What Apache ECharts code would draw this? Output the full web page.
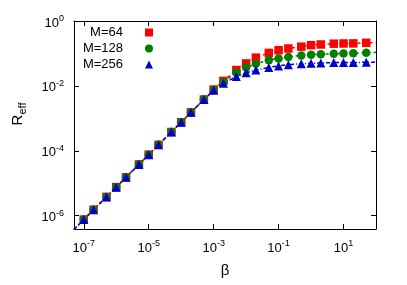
<!DOCTYPE html>
<html><head><meta charset="utf-8">
<script src="https://cdn.jsdelivr.net/npm/echarts@6/dist/echarts.min.js"></script>
<style>html,body{margin:0;padding:0;background:#fff}#c{width:407px;height:285px}</style>
</head><body><div id="c"></div>
<script>
// ---- data ----
const beta = [1e-7,2e-7,5e-7,1e-6,2e-6,5e-6,1e-5,2e-5,5e-5,1e-4,2e-4,5e-4,1e-3,2e-3,5e-3,1e-2,2e-2,5e-2,0.1,0.2,0.5,1,2,5,10,20,50];
const rM64  = [7.6e-7,1.53e-6,3.8e-6,7.6e-6,1.53e-5,3.8e-5,7.6e-5,1.53e-4,3.8e-4,7.6e-4,1.53e-3,3.8e-3,7.7e-3,0.0143,0.0308,0.0493,0.0743,0.104,0.126,0.142,0.162,0.180,0.189,0.200,0.203,0.204,0.213];
const rM128 = [7.6e-7,1.53e-6,3.8e-6,7.6e-6,1.53e-5,3.8e-5,7.6e-5,1.53e-4,3.8e-4,7.6e-4,1.53e-3,3.8e-3,7.5e-3,0.0132,0.0254,0.0367,0.0483,0.0623,0.0702,0.0781,0.0868,0.0912,0.0945,0.0973,0.100,0.1014,0.106];
const rM256 = [7.6e-7,1.53e-6,3.8e-6,7.6e-6,1.53e-5,3.8e-5,7.6e-5,1.53e-4,3.8e-4,7.6e-4,1.53e-3,3.8e-3,7.3e-3,0.0120,0.0194,0.0254,0.0308,0.0372,0.0414,0.0450,0.0483,0.0497,0.0508,0.0522,0.0527,0.0527,0.0533];
const seriesNames = ['M=64','M=128','M=256'];
// dotted guide curves: extra end points at the plot edges
const fitStart = [5.0e-8, 3.8e-7];
const fitEndBeta = 100;
const fitEndR = [0.216, 0.108, 0.054];
const xTicks = [1e-7,1e-5,1e-3,1e-1,1e1];
const yTicks = [1e-6,1e-4,1e-2,1];
const xRange = [5.0e-8, 100];
const yRange = [3.9e-7, 1];

// ---- chart ----
const FONT = '"Liberation Sans", Arial, Helvetica, sans-serif';
const colors = ['#ff0000', '#008000', '#0000cc'];
const symbols = ['rect', 'circle', 'triangle'];
const symSizes = [8.5, 8.5, 9];
const dashes = [[3,3],[3,3],[4,2,1,2]];
const values = [rM64, rM128, rM256];

function pow10(v){
  const e = Math.round(Math.log10(v));
  return '{b|10}{s|' + e + '}';
}
const labelRich = {
  b: {fontSize: 13, fontFamily: FONT, color: '#000', lineHeight: 18},
  s: {fontSize: 9, fontFamily: FONT, color: '#000', lineHeight: 9, verticalAlign: 'top'}
};

function makeAxis(isX, pos, main){
  const ticks = isX ? xTicks : yTicks;
  const rng = isX ? xRange : yRange;
  const ax = {
    type: 'log', logBase: 10, min: rng[0], max: rng[1], position: pos,
    axisLine: {show: true, lineStyle: {color: '#000', width: 1}},
    axisTick: {show: true, inside: true, length: 5, customValues: ticks, lineStyle: {color: '#000', width: 1}},
    axisLabel: main ? {show: true, customValues: ticks, formatter: pow10, rich: labelRich, margin: 10,
                       showMinLabel: true, showMaxLabel: true, padding: isX ? 0 : [4,0,0,0]} : {show: false},
    splitLine: {show: false},
    minorTick: {show: false},
    minorSplitLine: {show: false}
  };
  if (main) {
    if (isX) {
      ax.name = 'β'; ax.nameLocation = 'middle'; ax.nameGap = 34;
      ax.nameTextStyle = {fontSize: 15, fontFamily: FONT, color: '#000'};
    } else {
      ax.name = 'R{sub|eff}'; ax.nameLocation = 'middle'; ax.nameGap = 46; ax.nameRotate = 90;
      ax.nameTextStyle = {fontSize: 15, fontFamily: FONT, color: '#000', padding: [0,0,0,22],
        rich: {sub: {fontSize: 11, fontFamily: FONT, color: '#000', lineHeight: 14, verticalAlign: 'bottom'}},
        lineHeight: 20};
    }
  }
  return ax;
}

const series = [];
for (let i = 0; i < 3; i++) {
  const pts = [fitStart.slice()];
  for (let j = 0; j < beta.length; j++) pts.push([beta[j], values[i][j]]);
  pts.push([fitEndBeta, fitEndR[i]]);
  series.push({
    name: 'fit ' + seriesNames[i], type: 'line', data: pts, showSymbol: false, symbol: 'none',
    silent: true, clip: true, z: 1,
    lineStyle: {color: colors[i], width: 1.5, type: dashes[i], opacity: 1}
  });
}
for (let i = 0; i < 3; i++) {
  series.push({
    name: seriesNames[i], type: 'scatter', z: 2 + i,
    data: beta.map((b, j) => [b, values[i][j]]),
    symbol: symbols[i], symbolSize: symSizes[i],
    itemStyle: {color: colors[i], opacity: 1}
  });
}

const chart = echarts.init(document.getElementById('c'), null, {renderer: 'canvas'});
chart.setOption({
  animation: false,
  backgroundColor: '#fff',
  grid: {left: 73, right: 31, top: 21, bottom: 56, containLabel: false},
  xAxis: [makeAxis(true, 'bottom', true), makeAxis(true, 'top', false)],
  yAxis: [makeAxis(false, 'left', true), makeAxis(false, 'right', false)],
  legend: {
    orient: 'vertical', align: 'right', right: 254, top: 26, padding: 0,
    itemWidth: 8, itemHeight: 8, itemGap: 3,
    data: [
      {name: 'M=64', icon: 'rect', itemStyle: {opacity: 1}},
      {name: 'M=128', icon: 'circle', itemStyle: {opacity: 1}},
      {name: 'M=256', icon: 'triangle', itemStyle: {opacity: 1}}
    ],
    textStyle: {fontSize: 13, fontFamily: FONT, color: '#000', lineHeight: 10, padding: [0,17,0,0]}
  },
  series: series
});
</script>
</body></html>
